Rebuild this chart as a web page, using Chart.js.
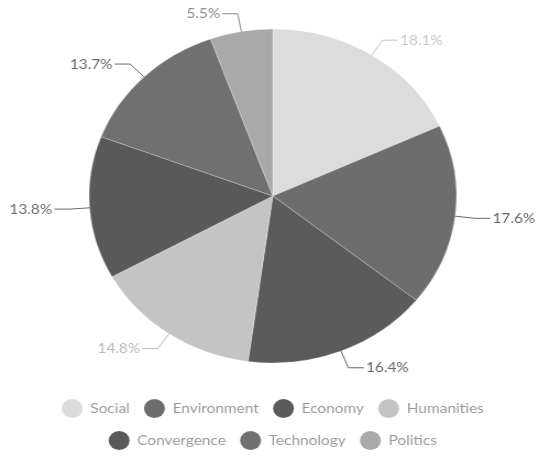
<!DOCTYPE html>
<html>
<head>
<meta charset="utf-8">
<script src="https://cdn.jsdelivr.net/npm/chart.js@4/dist/chart.umd.min.js"></script>
<style>
  html, body { margin: 0; padding: 0; background: #fff; overflow: hidden; }
  #wrap { width: 490px; height: 457px; transform: scaleX(1.1); transform-origin: 0 0; }
</style>
</head>
<body>
<div id="wrap"><canvas id="pieChart" width="490" height="457" style="width:490px;height:457px"></canvas></div>
<script>
const categories = ['Social', 'Environment', 'Economy', 'Humanities', 'Convergence', 'Technology', 'Politics'];
const shares = [18.1, 17.6, 16.4, 14.8, 13.8, 13.7, 5.5];
const sliceColors = ['#dcdcdc', '#6d6d6d', '#5b5b5b', '#c4c4c4', '#595959', '#707070', '#a9a9a9'];
const labelColors = ['#c6c6c6', '#666666', '#666666', '#b8b8b8', '#6a6a6a', '#666666', '#8a8a8a'];

// percent labels with elbow leader lines
const outsideLabels = {
  id: 'outsideLabels',
  afterDatasetsDraw(chart) {
    const ctx = chart.ctx;
    const meta = chart.getDatasetMeta(0);
    ctx.save();
    ctx.font = '14px Lato';
    ctx.textBaseline = 'middle';
    ctx.lineWidth = 1;
    meta.data.forEach(function (arc, i) {
      const p = arc.getProps(['x', 'y', 'startAngle', 'endAngle', 'outerRadius'], true);
      const mid = (p.startAngle + p.endAngle) / 2;
      const cos = Math.cos(mid), sin = Math.sin(mid);
      const x0 = p.x + cos * p.outerRadius, y0 = p.y + sin * p.outerRadius;
      const x1 = p.x + cos * (p.outerRadius + 18), y1 = p.y + sin * (p.outerRadius + 18);
      const dir = cos >= 0 ? 1 : -1;
      const x2 = x1 + dir * 14;
      ctx.strokeStyle = labelColors[i];
      ctx.beginPath();
      ctx.moveTo(x0, y0);
      ctx.lineTo(x1, y1);
      ctx.lineTo(x2, y1);
      ctx.stroke();
      ctx.fillStyle = labelColors[i];
      ctx.textAlign = dir > 0 ? 'left' : 'right';
      ctx.fillText(shares[i].toFixed(1) + '%', x2 + dir * 2, y1);
    });
    ctx.restore();
  }
};

const ctx = document.getElementById('pieChart').getContext('2d');
const pieChart = new Chart(ctx, {
  type: 'pie',
  data: {
    labels: categories,
    datasets: [{
      data: shares,
      backgroundColor: sliceColors,
      borderColor: 'rgba(255,255,255,0.25)',
      borderWidth: 1,
      radius: 167
    }]
  },
  options: {
    responsive: false,
    animation: false,
    layout: { padding: { top: 6, left: 6, bottom: -3 } },
    plugins: {
      tooltip: { enabled: false },
      legend: {
        position: 'bottom',
        labels: {
          boxWidth: 19,
          boxHeight: 19,
          useBorderRadius: true,
          borderRadius: 9.5,
          padding: 13,
          color: '#999999',
          font: { family: 'Lato', size: 14 },
          generateLabels(chart) {
            const items = Chart.overrides.pie.plugins.legend.labels.generateLabels(chart);
            items.forEach(function (it) { it.lineWidth = 0; });
            return items;
          }
        }
      }
    }
  },
  plugins: [outsideLabels]
});
</script>
</body>
</html>
